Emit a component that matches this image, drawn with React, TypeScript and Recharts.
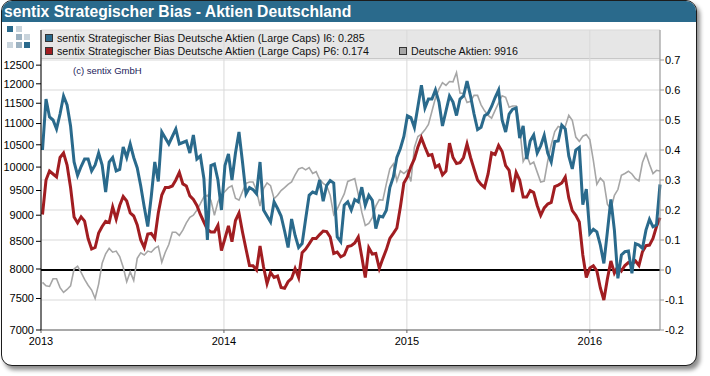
import React from 'react';
import { LineChart, Line, XAxis, YAxis, CartesianGrid, ReferenceLine } from 'recharts';

const DAY = 86400000;
const axisStart = Date.UTC(2013, 0, 1);
const firstWeek = Date.UTC(2013, 0, 4);

const yearTicks = [Date.UTC(2013, 0, 1), Date.UTC(2014, 0, 1), Date.UTC(2015, 0, 1), Date.UTC(2016, 0, 1)];
const daxTicks = [7000, 7500, 8000, 8500, 9000, 9500, 10000, 10500, 11000, 11500, 12000, 12500];
const biasTicks = [-0.2, -0.1, 0, 0.1, 0.2, 0.3, 0.4, 0.5, 0.6, 0.7];

// sentix Strategischer Bias Deutsche Aktien (Large Caps) I6, weekly
const i6 = [
  0.40, 0.57, 0.51, 0.50, 0.47, 0.52, 0.58, 0.55, 0.48, 0.36,
  0.315, 0.345, 0.37, 0.37, 0.33, 0.35, 0.39, 0.35, 0.26, 0.36,
  0.375, 0.33, 0.335, 0.41, 0.375, 0.42, 0.375, 0.34, 0.28, 0.21,
  0.145, 0.245, 0.36, 0.295, 0.46, 0.44, 0.42, 0.445, 0.47, 0.42,
  0.425, 0.43, 0.39, 0.45, 0.37, 0.38, 0.305, 0.10, 0.348, 0.353,
  0.30, 0.20, 0.348, 0.387, 0.30, 0.39, 0.46, 0.36, 0.254, 0.275,
  0.268, 0.254, 0.36, 0.20, 0.18, 0.16, 0.227, 0.205, 0.18, 0.13,
  0.075, 0.17, 0.115, 0.075, 0.088, 0.17, 0.249, 0.26, 0.255, 0.30,
  0.229, 0.282, 0.298, 0.29, 0.11, 0.094, 0.216, 0.227, 0.20, 0.235,
  0.227, 0.276, 0.216, 0.249, 0.232, 0.138, 0.18, 0.177, 0.199, 0.275,
  0.31, 0.375, 0.405, 0.445, 0.514, 0.508, 0.475, 0.545, 0.616, 0.54,
  0.57, 0.57, 0.60, 0.56, 0.48, 0.53, 0.58, 0.56, 0.515, 0.57,
  0.58, 0.63, 0.58, 0.52, 0.468, 0.476, 0.514, 0.522, 0.545, 0.575,
  0.60, 0.50, 0.46, 0.52, 0.536, 0.54, 0.44, 0.48, 0.37, 0.43,
  0.45, 0.39, 0.414, 0.449, 0.39, 0.36, 0.428, 0.43, 0.483, 0.47,
  0.38, 0.337, 0.40, 0.409, 0.218, 0.27, 0.122, 0.136, 0.127, 0.083,
  0.022, 0.127, 0.235, 0.133, -0.028, 0.05, 0.061, 0.063, -0.011, 0.088,
  0.083, 0.072, 0.133, 0.169, 0.144, 0.15, 0.285,
];

// sentix Strategischer Bias Deutsche Aktien (Large Caps) P6, weekly
const p6 = [
  0.185, 0.30, 0.33, 0.32, 0.31, 0.375, 0.39, 0.35, 0.275, 0.177,
  0.157, 0.177, 0.163, 0.105, 0.07, 0.075, 0.123, 0.145, 0.162, 0.158,
  0.21, 0.17, 0.215, 0.245, 0.23, 0.19, 0.18, 0.15, 0.10, 0.075,
  0.12, 0.122, 0.105, 0.19, 0.25, 0.275, 0.275, 0.28, 0.30, 0.325,
  0.287, 0.28, 0.247, 0.235, 0.215, 0.185, 0.16, 0.135, 0.127, 0.127,
  0.149, 0.065, 0.105, 0.147, 0.094, 0.165, 0.19, 0.127, 0.07, 0.015,
  0.014, 0, 0.08, 0.01, -0.045, -0.008, -0.025, -0.02, -0.058, -0.061,
  -0.039, -0.028, 0.005, -0.025, 0.058, 0.07, 0.087, 0.105, 0.105, 0.118,
  0.13, 0.128, 0.11, 0.055, 0.06, 0.044, 0.05, 0.078, 0.081, 0.09,
  0.11, 0.044, -0.025, 0.074, 0.053, 0.055, 0.005, 0.038, 0.068, 0.105,
  0.122, 0.14, 0.21, 0.29, 0.31, 0.345, 0.37, 0.41, 0.44, 0.41,
  0.382, 0.385, 0.343, 0.35, 0.317, 0.33, 0.423, 0.375, 0.355, 0.358,
  0.375, 0.42, 0.375, 0.337, 0.30, 0.285, 0.275, 0.32, 0.39, 0.385,
  0.415, 0.395, 0.348, 0.332, 0.26, 0.325, 0.30, 0.243, 0.243, 0.265,
  0.258, 0.215, 0.182, 0.207, 0.22, 0.225, 0.278, 0.283, 0.29, 0.31,
  0.24, 0.198, 0.182, 0.16, 0.05, -0.025, 0.007, 0.014, -0.003, -0.06,
  -0.1, -0.03, 0.03, -0.01, 0.012, -0.003, 0.015, 0.025, 0.02, 0.03,
  0.015, 0.061, 0.081, 0.083, 0.105, 0.145, 0.174,
];

// Deutsche Aktien (DAX), weekly
const dax = [
  7770, 7710, 7700, 7830, 7830, 7680, 7600, 7650, 7710, 8000,
  8050, 7940, 7820, 7720, 7640, 7500, 7740, 8100, 8270, 8370,
  8300, 8320, 8220, 8030, 7780, 7950, 7800, 8190, 8290, 8250,
  8320, 8300, 8370, 8410, 8120, 8300, 8440, 8670, 8670, 8610,
  8710, 8850, 8960, 9000, 9100, 9230, 9370, 9400, 9300, 9000,
  9270, 9410, 9480, 9560, 9600, 9340, 9300, 9480, 9650, 9680,
  9680, 9500, 9180, 9540, 9660, 9600, 9330, 9400, 9500, 9560,
  9630, 9680, 9830, 9960, 9990, 9940, 9990, 9860, 9900, 9730,
  9650, 9600, 9400, 9010, 9120, 9280, 9430, 9690, 9720, 9750,
  9420, 9060, 8800, 8840, 8950, 9180, 9310, 9300, 9640, 9960,
  10070, 9700, 9920, 9860, 9930, 9690, 10440, 10690, 10750, 10850,
  10980, 11300, 11630, 11860, 12030, 11960, 12060, 12050, 12300, 11760,
  11750, 11520, 11550, 11700, 11700, 11460, 11310, 11200, 11130, 11320,
  11510, 11690, 11650, 11400, 11430, 11430, 10920, 10120, 10270, 10060,
  10110, 9890, 9680, 9700, 10130, 10500, 10810, 10930, 10900, 10930,
  11200, 11080, 10680, 10580, 10700, 10740, 10620, 10150, 9630, 9760,
  9680, 9220, 9120, 9400, 9520, 9820, 9860, 9910, 9850, 9750,
  9700, 10100, 10300, 10060, 9860, 9930, 9916,
];

const legendI6 = 'sentix Strategischer Bias Deutsche Aktien (Large Caps) I6: 0.285';
const legendP6 = 'sentix Strategischer Bias Deutsche Aktien (Large Caps) P6: 0.174';
const legendDax = 'Deutsche Aktien: 9916';

const rows = i6.map((v, i) => ({ t: firstWeek + i * 7 * DAY, i6: v, p6: p6[i], dax: dax[i] }));
const lastT = rows[rows.length - 1].t;

const BLUE = '#2a6a8c';
const RED = '#a11d21';
const GREY = '#a6a6a6';
const FONT = '"Liberation Sans", Arial, sans-serif';

const tickStyle = { fontSize: 11, fill: '#000', fontFamily: FONT };

function Swatch({ left, top, color }: { left: number; top: number; color: string }) {
  return (
    <div style={{ position: 'absolute', left, top, width: 8, height: 8, background: color, border: '1px solid #333', boxSizing: 'border-box' }} />
  );
}

function LegendText({ left, top, text }: { left: number; top: number; text: string }) {
  return (
    <div style={{ position: 'absolute', left, top, fontSize: 10.7, lineHeight: '13px', color: '#111', whiteSpace: 'nowrap' }}>{text}</div>
  );
}

function Logo() {
  const sq = (x: number, y: number, c: string) => (
    <div key={`${x}-${y}`} style={{ position: 'absolute', left: x, top: y, width: 6, height: 6, background: c }} />
  );
  return (
    <>
      {sq(7, 26, BLUE)}
      {sq(16, 26, '#c9d4dc')}
      {sq(16, 34, '#9db2c1')}
      {sq(24, 34, '#c9d4dc')}
      {sq(7, 42, '#c9d4dc')}
      {sq(16, 42, '#9db2c1')}
      {sq(24, 42, BLUE)}
    </>
  );
}

export default function App() {
  return (
    <div style={{ position: 'absolute', left: 0, top: 0, width: 710, height: 376, fontFamily: FONT, background: '#fff' }}>
      <div
        style={{
          position: 'absolute', left: 1, top: 0, width: 694, height: 364,
          border: '1.5px solid #1c1c1c', borderRadius: 11, background: '#fff',
          boxShadow: '3px 4px 4px rgba(0,0,0,0.45)', overflow: 'hidden',
        }}
      >
        <div style={{ height: 21, background: BLUE, color: '#fff', fontWeight: 'bold', fontSize: 15.7, lineHeight: '21px', paddingLeft: 2, whiteSpace: 'nowrap' }}>
          sentix Strategischer Bias - Aktien Deutschland
        </div>
      </div>
      <Logo />
      <div style={{ position: 'absolute', left: 41, top: 30, width: 619, height: 29, background: '#e6e6e6', borderBottom: '1px solid #c8c8c8', boxSizing: 'border-box' }} />
      <div style={{ position: 'absolute', left: 0, top: 0 }}>
        <LineChart width={710} height={376} data={rows} margin={{ top: 30, right: 0, bottom: 0, left: 0 }}>
          <CartesianGrid yAxisId="r" stroke="#d9d9d9" strokeWidth={1} />
          <XAxis
            dataKey="t"
            type="number"
            domain={[axisStart, lastT]}
            ticks={yearTicks}
            interval={0}
            height={46}
            tickFormatter={(v: number) => String(new Date(v).getUTCFullYear())}
            tick={tickStyle}
            stroke="#666"
            tickSize={3}
            tickMargin={4}
          />
          <YAxis
            yAxisId="l"
            scale="log"
            domain={[7000, 13500]}
            allowDataOverflow
            ticks={daxTicks}
            interval={0}
            width={41}
            tick={tickStyle}
            stroke="#000"
            tickSize={5}
            tickMargin={2}
          />
          <YAxis
            yAxisId="r"
            orientation="right"
            domain={[-0.2, 0.8]}
            allowDataOverflow
            ticks={biasTicks}
            interval={0}
            width={50}
            tick={tickStyle}
            tickFormatter={(v: number) => String(Math.round(v * 10) / 10)}
            stroke="#999"
            tickSize={4}
            tickMargin={1}
          />
          <ReferenceLine yAxisId="r" y={0} stroke="#000" strokeWidth={2} />
          <Line yAxisId="l" dataKey="dax" stroke={GREY} strokeWidth={1.6} dot={false} type="linear" isAnimationActive={false} />
          <Line yAxisId="r" dataKey="p6" stroke={RED} strokeWidth={3} dot={false} type="linear" isAnimationActive={false} />
          <Line yAxisId="r" dataKey="i6" stroke={BLUE} strokeWidth={3} dot={false} type="linear" isAnimationActive={false} />
        </LineChart>
      </div>
      <Swatch left={45} top={34} color={BLUE} />
      <LegendText left={57} top={31.5} text={legendI6} />
      <Swatch left={45} top={47} color={RED} />
      <LegendText left={57} top={45} text={legendP6} />
      <Swatch left={399} top={47} color={GREY} />
      <LegendText left={411} top={45} text={legendDax} />
      <div style={{ position: 'absolute', left: 73, top: 65, fontSize: 9.5, color: '#1b1b5a', whiteSpace: 'nowrap' }}>(c) sentix GmbH</div>
    </div>
  );
}
